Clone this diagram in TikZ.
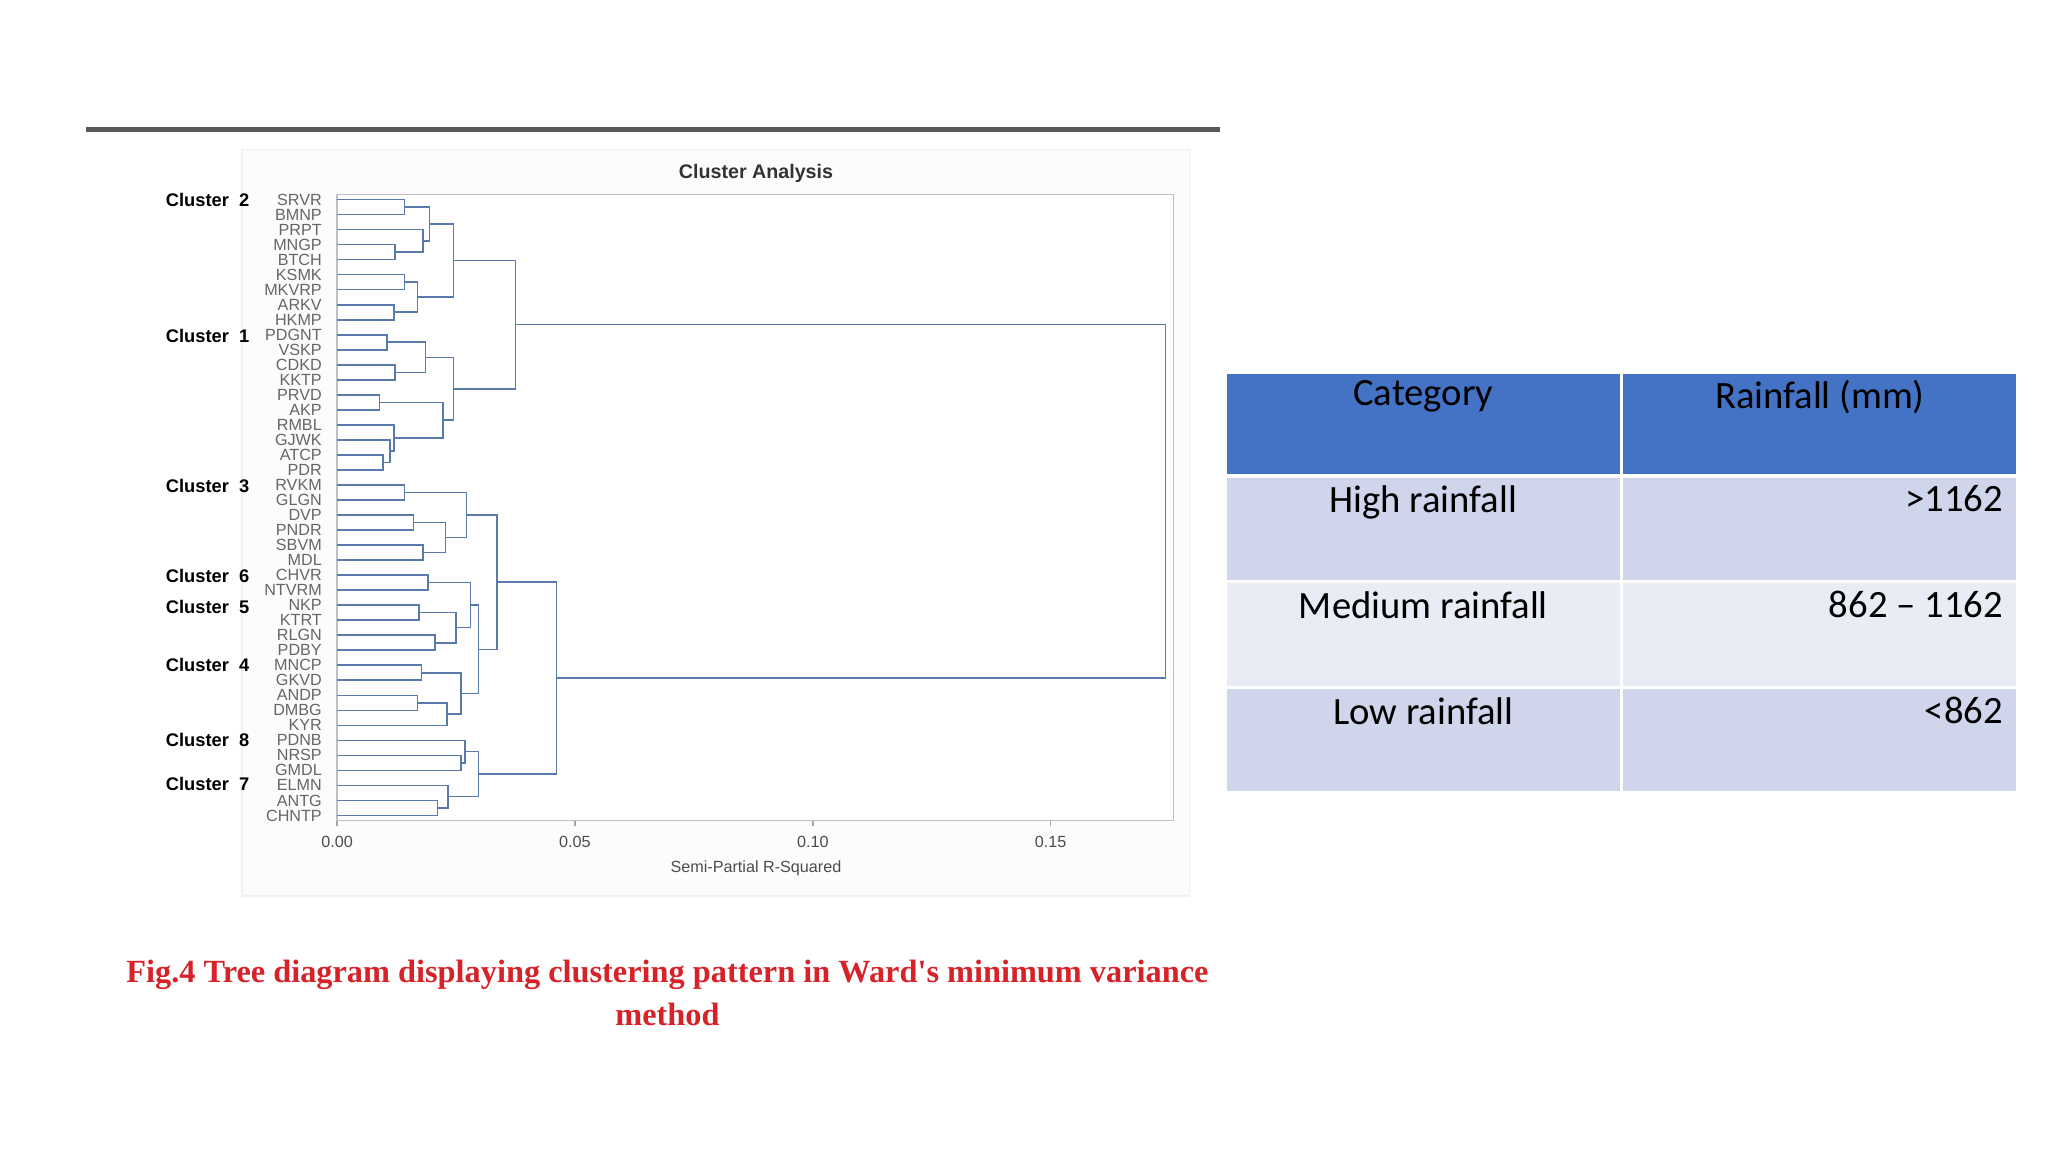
\documentclass[tikz,border=0pt]{standalone}
\usepackage{fontspec}
\setmainfont{Liberation Sans}
\newfontfamily\tabfont{Carlito}
\newfontfamily\capfont{Liberation Serif}
\usetikzlibrary{calc}
\definecolor[named]{myLink}{RGB}{88,122,172}
\definecolor[named]{myHead}{RGB}{68,114,196}
\definecolor[named]{myRowA}{RGB}{207,213,234}
\definecolor[named]{myRowB}{RGB}{233,235,245}
\definecolor[named]{myCap}{RGB}{214,34,40}
\newcommand{\mrg}[4]{%
  \coordinate (tmp) at ($(#3)!.5!(#4)$);
  \coordinate (#1) at (#2,0 |- tmp);
  \draw[link] (#3) -| (#1) |- (#4);}
\begin{document}
\begin{tikzpicture}
[%
    x=0.013216cm, y=-0.013216cm,
    link/.style={myLink, line width=0.45pt},
    leaf/.style={anchor=east, inner sep=0pt, text=black!60, font=\fontsize{4.6}{5}\selectfont},
    clus/.style={anchor=west, inner sep=0pt, font=\bfseries\fontsize{5.2}{6}\selectfont},
    tick/.style={inner sep=0pt, text=black!70, font=\fontsize{4.6}{5}\selectfont},
    cell/.style={draw=white, line width=1pt},
    celltext/.style={anchor=north, inner sep=0pt, font=\tabfont\fontsize{11}{13}\selectfont}
  ]
  \useasboundingbox (0,0) rectangle (1549.6,871.6);
  %top rule
  \draw[black!65, line width=1.6pt] (65,98) -- (923,98);
  %plot area
  \draw[black!6, fill=black!1] (183,113) rectangle (900,678);
  \draw[black!25, fill=white] (255,147) rectangle (888,621);
  \node[font=\bfseries\fontsize{5.6}{6}\selectfont, text=black!80] (title) at (572,131) {Cluster Analysis};
  %leaves
  \foreach \name [count=\i from 0] in {SRVR,BMNP,PRPT,MNGP,BTCH,KSMK,MKVRP,ARKV,HKMP,PDGNT,VSKP,CDKD,KKTP,PRVD,AKP,RMBL,GJWK,ATCP,PDR,RVKM,GLGN,DVP,PNDR,SBVM,MDL,CHVR,NTVRM,NKP,KTRT,RLGN,PDBY,MNCP,GKVD,ANDP,DMBG,KYR,PDNB,NRSP,GMDL,ELMN,ANTG,CHNTP}
  {
    \coordinate (l\i) at (255,{151+11.366*\i});
    \node[leaf] (n\i) at (244,{151+11.366*\i}) {\name};
  }
  %cluster labels
  \node[clus] (c2) at (125,151) {Cluster\ \ 2};
  \node[clus] (c1) at (125,254) {Cluster\ \ 1};
  \node[clus] (c3) at (125,368) {Cluster\ \ 3};
  \node[clus] (c6) at (125,436) {Cluster\ \ 6};
  \node[clus] (c5) at (125,459) {Cluster\ \ 5};
  \node[clus] (c4) at (125,503) {Cluster\ \ 4};
  \node[clus] (c8) at (125,560) {Cluster\ \ 8};
  \node[clus] (c7) at (125,593) {Cluster\ \ 7};
  %upper branch
  \mrg{A}{306}{l0}{l1}
  \mrg{B}{299}{l3}{l4}
  \mrg{C}{320}{l2}{B}
  \mrg{D}{325}{A}{C}
  \mrg{E}{306}{l5}{l6}
  \mrg{F}{298}{l7}{l8}
  \mrg{G}{316}{E}{F}
  \mrg{H}{343}{D}{G}
  \mrg{I}{293}{l9}{l10}
  \mrg{J}{299}{l11}{l12}
  \mrg{K}{322}{I}{J}
  \mrg{L}{287}{l13}{l14}
  \mrg{M}{290}{l17}{l18}
  \mrg{N}{295}{l16}{M}
  \mrg{O}{298}{l15}{N}
  \mrg{P}{335}{L}{O}
  \mrg{Q}{343}{K}{P}
  \mrg{R}{390}{H}{Q}
  %lower branch
  \mrg{a}{306}{l19}{l20}
  \mrg{b}{313}{l21}{l22}
  \mrg{c}{320}{l23}{l24}
  \mrg{d}{337}{b}{c}
  \mrg{e}{353}{a}{d}
  \mrg{f}{324}{l25}{l26}
  \mrg{g}{317}{l27}{l28}
  \mrg{h}{329}{l29}{l30}
  \mrg{i}{345}{g}{h}
  \mrg{j}{356}{f}{i}
  \mrg{k}{319}{l31}{l32}
  \mrg{l}{316}{l33}{l34}
  \mrg{m}{338}{l}{l35}
  \mrg{n}{349}{k}{m}
  \mrg{o}{362}{j}{n}
  \mrg{p}{376}{e}{o}
  \mrg{q0}{349}{l37}{l38}
  \mrg{q}{352}{l36}{q0}
  \mrg{r}{331}{l40}{l41}
  \mrg{s}{339}{l39}{r}
  \mrg{t}{362}{q}{s}
  \mrg{u}{421}{p}{t}
  \mrg{root}{882}{R}{u}
  %axis
  \foreach \v/\lab in {0/0.00,1/0.05,2/0.10,3/0.15}
  {
    \draw[black!35] ({255+180*\v},621) -- ({255+180*\v},625);
    \node[tick] (t\v) at ({255+180*\v},637) {\lab};
  }
  \node[tick] (xlab) at (572,657) {Semi-Partial R-Squared};
  %caption
  \node[text=myCap, align=center, font=\capfont\bfseries\fontsize{9.2}{12.2}\selectfont] (cap) at (505,751)
    {Fig.4 Tree diagram displaying clustering pattern in Ward's minimum variance\\method};
  %table
  \draw[cell, fill=myHead] (927,282) rectangle (1227,360);
  \draw[cell, fill=myHead] (1227,282) rectangle (1527,360);
  \draw[cell, fill=myRowA] (927,360) rectangle (1227,440);
  \draw[cell, fill=myRowA] (1227,360) rectangle (1527,440);
  \draw[cell, fill=myRowB] (927,440) rectangle (1227,520);
  \draw[cell, fill=myRowB] (1227,440) rectangle (1527,520);
  \draw[cell, fill=myRowA] (927,520) rectangle (1227,600);
  \draw[cell, fill=myRowA] (1227,520) rectangle (1527,600);
  \node[celltext] (h1) at (1077,287) {Category};
  \node[celltext] (h2) at (1377,287) {Rainfall (mm)};
  \node[celltext] (r1) at (1077,367) {High rainfall};
  \node[celltext, anchor=north east] (v1) at (1516,367) {>1162};
  \node[celltext] (r2) at (1077,447) {Medium rainfall};
  \node[celltext, anchor=north east] (v2) at (1516,447) {862 – 1162};
  \node[celltext] (r3) at (1077,527) {Low rainfall};
  \node[celltext, anchor=north east] (v3) at (1516,527) {<862};
\end{tikzpicture}
\end{document}
